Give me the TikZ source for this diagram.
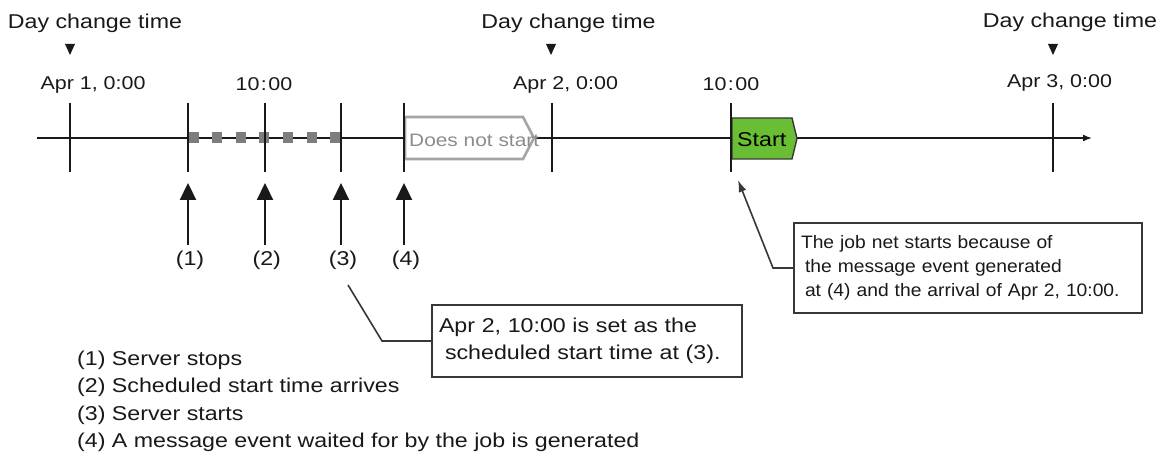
\documentclass[tikz,border=0pt]{standalone}
\usepackage{fontspec}
\setmainfont{Liberation Sans}[FakeStretch=1.16]
\newfontfamily\notefont{Liberation Sans}[FakeStretch=1.07]
\usetikzlibrary{arrows.meta}
\definecolor{startgreen}{RGB}{106,190,52}
\definecolor{idlegray}{RGB}{165,165,165}
\definecolor{idletext}{RGB}{140,140,140}
\definecolor{gaptone}{RGB}{125,125,125}
\definecolor{framegray}{RGB}{55,55,55}
\definecolor{inktone}{RGB}{25,25,25}

\begin{document}
\begin{tikzpicture}[x=1pt,y=-1pt,
  lbl/.style={font=\fontsize{20}{27.3}\selectfont, text=inktone, inner sep=0pt, anchor=base},
  datelbl/.style={font=\fontsize{18.5}{24}\selectfont, text=inktone, inner sep=0pt, anchor=base},
  tickline/.style={line width=1.6pt, inktone},
  axisline/.style={line width=1.6pt, inktone, -{Latex[length=9pt,width=7pt]}},
  uparrow/.style={line width=2.2pt, inktone, -{Triangle[length=17pt,width=16pt]}},
  callout/.style={line width=1.6pt, framegray},
  notebox/.style={draw=framegray, line width=1.8pt, fill=white, inner ysep=0pt, align=left, text=inktone},
  daymark/.style={fill=inktone}
]
% page area
\path[use as bounding box, fill=white] (0,0) rectangle (1163,454);

% tick positions
\foreach \n/\x in {d1/70, s1/188, s2/265, s3/341, s4/404, d2/552, s5/731, d3/1053} {
  \coordinate (\n-top) at (\x,103);
  \coordinate (\n-bot) at (\x,172);
}

% time axis
\coordinate (ax0) at (37,138);
\coordinate (ax1) at (1092,138);
\draw[axisline] (ax0) -- (ax1);

% server down period
\foreach \x in {194,217.3,240.7,264.3,287.7,311.5,334.5}
  \fill[gaptone] (\x-5,132.5) rectangle (\x+5,143.5);

% job net that does not start
\draw[idlegray, line width=2.6pt, fill=white, line join=miter]
  (405,117) -- (523,117) -- (534,138) -- (523,159) -- (405,159) -- cycle;
\node[font=\fontsize{18}{20}\selectfont, text=idletext, inner sep=0pt, anchor=base west]
  (idle) at (409,146.5) {Does not start};

% job net that starts
\draw[framegray, line width=1.4pt, fill=startgreen, line join=miter]
  (732,118) -- (792,118) -- (797,138.5) -- (792,159) -- (732,159) -- cycle;
\node[lbl, anchor=base west, text=black] (run) at (737,146.5) {Start};

% ticks
\foreach \n in {d1,s1,s2,s3,s4,d2,s5,d3}
  \draw[tickline] (\n-top) -- (\n-bot);

% day change markers
\node[lbl] (dc1) at (95,29) {Day change time};
\node[lbl] (dc2) at (568.5,29) {Day change time};
\node[lbl] (dc3) at (1070,28) {Day change time};
\fill[daymark] (65,44) -- (75,44) -- (70,55) -- cycle;
\fill[daymark] (546,44) -- (556,44) -- (551,55) -- cycle;
\fill[daymark] (1048,44) -- (1058,44) -- (1053,55) -- cycle;

% time labels
\node[datelbl] (t1) at (93,89.5) {Apr 1, 0:00};
\node[datelbl] (t2) at (264,91) {10\kern1.5pt:\kern1.5pt00};
\node[datelbl] (t3) at (565.5,89.5) {Apr 2, 0:00};
\node[datelbl] (t4) at (731,91) {10\kern1.5pt:\kern1.5pt00};
\node[datelbl] (t5) at (1059.5,88) {Apr 3, 0:00};

% event arrows
\foreach \n/\x/\lx/\k in {s1/188/190/1, s2/265/266.7/2, s3/341/343/3, s4/404/406/4} {
  \coordinate (\n-foot) at (\x,245);
  \coordinate (\n-tip) at (\x,183);
  \node[lbl] (ev\k) at (\lx,266) {(\k)};
  \draw[uparrow] (\n-foot) -- (\n-tip);
}

% note on the scheduled start time
\node[notebox, minimum width=310pt, minimum height=72pt, text width=296pt, inner xsep=7pt,
  font=\fontsize{20}{27}\selectfont] (note3) at (587,341)
  {Apr 2, 10:00 is set as the\\ \hspace*{6pt}scheduled start time at (3).};
\coordinate (c3) at (348,285);
\coordinate (k3) at (382,341);
\draw[callout] (c3) -- (k3) -- (note3.west);

% note on the start
\node[notebox, minimum width=348pt, minimum height=90pt, text width=334pt, inner xsep=7pt,
  font=\notefont\fontsize{18}{24}\selectfont] (note4) at (968,268)
  {The job net starts because of\\ \hspace*{4pt}the message event generated\\ \hspace*{4pt}at (4) and the arrival of Apr 2, 10:00.};
\coordinate (k4) at (773,268);
\coordinate (t4tip) at (738,180);
\draw[callout, -{Latex[length=12pt,width=8pt]}] (note4.west) -- (k4) -- (t4tip);

% legend
\node[lbl, anchor=base west] (lg1) at (77,365.5) {(1) Server stops};
\node[lbl, anchor=base west] (lg2) at (77,392.8) {(2) Scheduled start time arrives};
\node[lbl, anchor=base west] (lg3) at (77,420.1) {(3) Server starts};
\node[lbl, anchor=base west] (lg4) at (77,447.4) {(4) A message event waited for by the job is generated};
\end{tikzpicture}
\end{document}
